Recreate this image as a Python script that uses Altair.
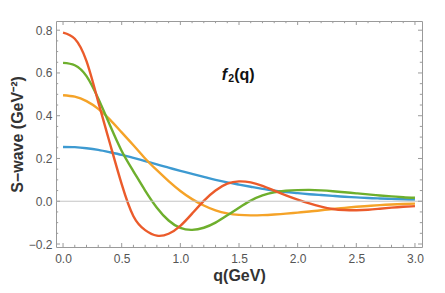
import altair as alt
import pandas as pd

# ---- data ----
q = [0.0, 0.1, 0.2, 0.3, 0.4, 0.5, 0.6, 0.7, 0.8, 0.9, 1.0,
     1.1, 1.2, 1.3, 1.4, 1.5, 1.6, 1.7, 1.8, 1.9, 2.0,
     2.1, 2.2, 2.3, 2.4, 2.5, 2.6, 2.7, 2.8, 2.9, 3.0]

blue = [0.254, 0.253, 0.248, 0.240, 0.229, 0.217, 0.203, 0.188, 0.172, 0.157, 0.142,
        0.128, 0.114, 0.100, 0.088, 0.078, 0.068, 0.058, 0.050, 0.043, 0.038,
        0.033, 0.029, 0.025, 0.021, 0.018, 0.015, 0.013, 0.011, 0.009, 0.008]

orange = [0.496, 0.489, 0.468, 0.432, 0.382, 0.322, 0.262, 0.200, 0.145, 0.094, 0.048,
          0.010, -0.020, -0.043, -0.057, -0.064, -0.066, -0.065, -0.062, -0.058, -0.053,
          -0.048, -0.042, -0.036, -0.031, -0.026, -0.022, -0.018, -0.015, -0.013, -0.011]

green = [0.647, 0.636, 0.585, 0.480, 0.355, 0.235, 0.140, 0.050, -0.030, -0.090, -0.125,
         -0.134, -0.124, -0.100, -0.066, -0.030, 0.003, 0.027, 0.042, 0.049, 0.052,
         0.053, 0.051, 0.047, 0.042, 0.037, 0.032, 0.027, 0.023, 0.019, 0.016]

red = [0.789, 0.760, 0.655, 0.465, 0.270, 0.080, -0.070, -0.135, -0.161, -0.152, -0.115,
       -0.058, 0.002, 0.050, 0.082, 0.093, 0.088, 0.072, 0.050, 0.028, 0.008,
       -0.010, -0.025, -0.036, -0.041, -0.042, -0.040, -0.035, -0.030, -0.026, -0.023]

series_names = ["s1", "s2", "s3", "s4"]
series_values = [blue, orange, green, red]
series_colors = ["#3D9AD1", "#F5A328", "#6EAF2D", "#EB5B2B"]

x_major = [0.0, 0.5, 1.0, 1.5, 2.0, 2.5, 3.0]
x_minor = [0.1, 0.2, 0.3, 0.4, 0.6, 0.7, 0.8, 0.9, 1.1, 1.2, 1.3, 1.4,
           1.6, 1.7, 1.8, 1.9, 2.1, 2.2, 2.3, 2.4, 2.6, 2.7, 2.8, 2.9]
y_major = [-0.2, 0.0, 0.2, 0.4, 0.6, 0.8]
y_minor = [-0.15, -0.1, -0.05, 0.05, 0.1, 0.15, 0.25, 0.3, 0.35,
           0.45, 0.5, 0.55, 0.65, 0.7, 0.75]

x_domain = [-0.06, 3.06]
y_domain = [-0.214, 0.843]

W, H = 366, 226
FRAME = "#9a9a9a"
FONT = "Liberation Sans"
X_TITLE = "q(GeV)"
Y_TITLE = "S\u2212wave (GeV\u207b\u00b2)"

rows = []
for name, vals in zip(series_names, series_values):
    for qq, v in zip(q, vals):
        rows.append({"q": qq, "v": v, "series": name})
df = pd.DataFrame(rows)

xs = alt.Scale(domain=x_domain, nice=False, zero=False)
ys = alt.Scale(domain=y_domain, nice=False, zero=False)

x_axis = alt.Axis(values=x_major, format=".1f", ticks=False, tickSize=0, domain=False,
                  grid=False, labelColor="#555555", labelFontSize=12, labelFont=FONT,
                  labelPadding=6, title=X_TITLE, titleFont=FONT, titleFontSize=16,
                  titleFontWeight="bold", titleColor="#333333", titlePadding=3)
y_axis = alt.Axis(values=y_major, format=".1f", ticks=False, tickSize=0, domain=False,
                  grid=False, labelColor="#555555", labelFontSize=12, labelFont=FONT,
                  labelPadding=4, title=Y_TITLE, titleFont=FONT,
                  titleFontSize=16, titleFontWeight="bold", titleColor="#333333",
                  titlePadding=3)


def X(field):
    return alt.X(field, scale=xs, axis=x_axis, title=X_TITLE)


def Y(field):
    return alt.Y(field, scale=ys, axis=y_axis, title=Y_TITLE)


lines = alt.Chart(df).mark_line(strokeWidth=2.4, interpolate="natural").encode(
    x=X("q:Q"),
    y=Y("v:Q"),
    color=alt.Color("series:N", scale=alt.Scale(domain=series_names, range=series_colors),
                    legend=None),
    detail="series:N",
)

zero = alt.Chart(pd.DataFrame({"y": [0.0]})).mark_rule(color="#c4c4c4", strokeWidth=1).encode(
    y=Y("y:Q")
)


def xticks(vals, length):
    d = pd.DataFrame({"t": vals})
    bottom = alt.Chart(d).mark_rule(color=FRAME, strokeWidth=1).encode(
        x=X("t:Q"), y=alt.value(H), y2=alt.value(H - length))
    top = alt.Chart(d).mark_rule(color=FRAME, strokeWidth=1).encode(
        x=X("t:Q"), y=alt.value(0), y2=alt.value(length))
    return [bottom, top]


def yticks(vals, length):
    d = pd.DataFrame({"t": vals})
    left = alt.Chart(d).mark_rule(color=FRAME, strokeWidth=1).encode(
        y=Y("t:Q"), x=alt.value(0), x2=alt.value(length))
    right = alt.Chart(d).mark_rule(color=FRAME, strokeWidth=1).encode(
        y=Y("t:Q"), x=alt.value(W), x2=alt.value(W - length))
    return [left, right]


ticks = xticks(x_major, 4) + xticks(x_minor, 2.2) + yticks(y_major, 4) + yticks(y_minor, 2.2)

lab = pd.DataFrame({"q": [1.353], "y": [0.59]})
t_f = alt.Chart(lab).mark_text(text="f", font=FONT, fontSize=16, fontWeight="bold",
                               fontStyle="italic", align="left", baseline="middle",
                               color="#111111").encode(x=X("q:Q"), y=Y("y:Q"))
t_2 = alt.Chart(lab).mark_text(text="2", font=FONT, fontSize=10.5, fontWeight="bold",
                               align="left", baseline="middle", dx=6.5, dy=4,
                               color="#111111").encode(x=X("q:Q"), y=Y("y:Q"))
t_q = alt.Chart(lab).mark_text(text="(q)", font=FONT, fontSize=16, fontWeight="bold",
                               align="left", baseline="middle", dx=12.5,
                               color="#111111").encode(x=X("q:Q"), y=Y("y:Q"))

chart = alt.layer(lines, zero, *ticks, t_f, t_2, t_q).properties(
    width=W, height=H,
    autosize=alt.AutoSizeParams(type="none"),
    padding={"left": 48, "top": 13, "right": 15, "bottom": 38},
).configure_view(stroke=FRAME, strokeWidth=1)

chart.save("out.html", embed_options={"renderer": "svg", "actions": False})
